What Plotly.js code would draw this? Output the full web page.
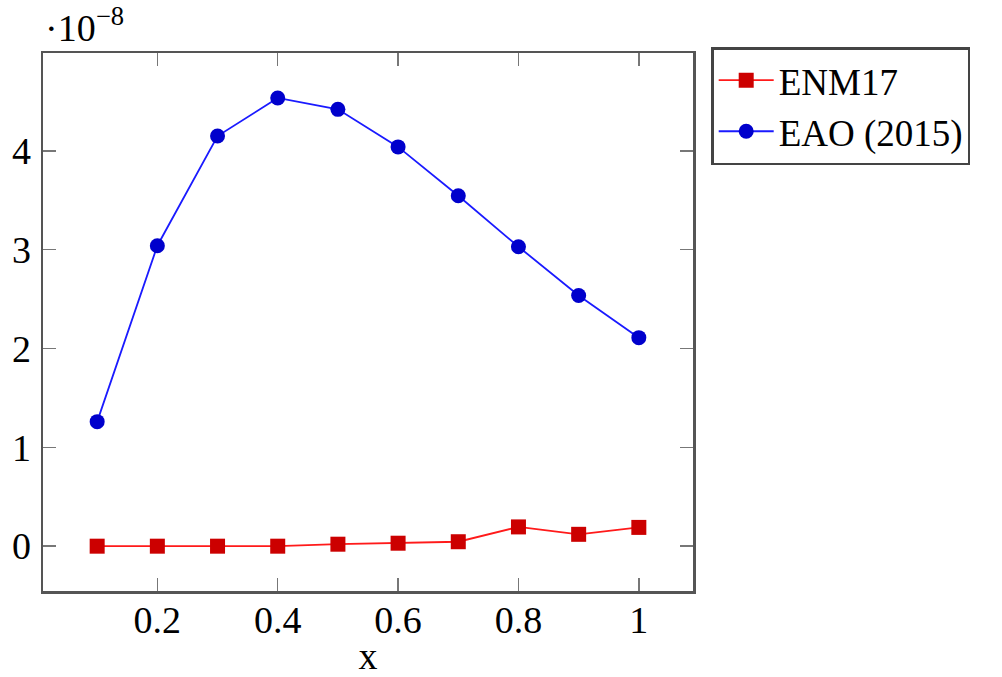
<!DOCTYPE html>
<html>
<head>
<meta charset="utf-8">
<script src="https://cdn.plot.ly/plotly-3.0.1.min.js"></script>
<style>html,body{margin:0;padding:0;background:#fff;}#chart{width:1002px;height:677px;}</style>
</head>
<body>
<div id="chart"></div>
<script>
// values in units of 1e-8
const xValues = [0.1, 0.2, 0.3, 0.4, 0.5, 0.6, 0.7, 0.8, 0.9, 1.0];
const enm17 = [0, 0, 0, 0, 0.02, 0.03, 0.045, 0.195, 0.12, 0.19];
const eao2015 = [1.26, 3.04, 4.15, 4.535, 4.42, 4.04, 3.545, 3.03, 2.536, 2.11];
const seriesNames = ["ENM17", "EAO (2015)"];
const xTicks = [0.2, 0.4, 0.6, 0.8, 1];
const xTickText = ["0.2", "0.4", "0.6", "0.8", "1"];
const yTicks = [0, 1, 2, 3, 4];
const yTickText = ["0", "1", "2", "3", "4"];
const exponentLabel = "·10<sup>−8</sup>";

const FONT = "'Liberation Serif', 'Times New Roman', serif";
const AX = "#555555";

const traces = [
  {
    x: xValues, y: enm17, name: seriesNames[0], type: "scatter", mode: "lines+markers",
    line: {color: "#ff1a1a", width: 1.8},
    marker: {symbol: "square", size: 15, color: "#cc0000", line: {width: 0}}
  },
  {
    x: xValues, y: eao2015, name: seriesNames[1], type: "scatter", mode: "lines+markers",
    line: {color: "#1a1aff", width: 1.8},
    marker: {symbol: "circle", size: 15, color: "#0000cc", line: {width: 0}}
  }
];

const layout = {
  width: 1002, height: 677,
  margin: {l: 43, r: 309, t: 53, b: 86},
  paper_bgcolor: "#fff", plot_bgcolor: "#fff",
  font: {family: FONT, size: 38, color: "#000"},
  showlegend: true,
  xaxis: {
    range: [0.01, 1.09],
    tickvals: xTicks, ticktext: xTickText,
    ticks: "inside", ticklen: 13, tickwidth: 1.5, tickcolor: "#777",
    showline: true, linecolor: AX, linewidth: 2.5, mirror: "ticks",
    showgrid: false, zeroline: false,
    tickfont: {family: FONT, size: 38},
    ticklabelstandoff: -6,
    title: {text: "x", font: {family: FONT, size: 38}, standoff: 2}
  },
  yaxis: {
    range: [-0.4535, 4.99],
    tickvals: yTicks, ticktext: yTickText,
    ticks: "inside", ticklen: 13, tickwidth: 1.5, tickcolor: "#777",
    showline: true, linecolor: AX, linewidth: 2.5, mirror: "ticks",
    showgrid: false, zeroline: false,
    tickfont: {family: FONT, size: 38},
    ticklabelstandoff: 2
  },
  legend: {
    x: 1.028, y: 1.011, xanchor: "left", yanchor: "top",
    bordercolor: "#444", borderwidth: 2.5, bgcolor: "#fff",
    font: {family: FONT, size: 37},
    itemwidth: 55, tracegroupgap: 0
  },
  annotations: [{
    text: exponentLabel, xref: "paper", yref: "paper", x: 0, y: 1.0,
    xanchor: "left", yanchor: "bottom", showarrow: false, yshift: 2,
    font: {family: FONT, size: 38, color: "#000"}
  }]
};

Plotly.newPlot("chart", traces, layout, {displayModeBar: false, staticPlot: true});
</script>
</body>
</html>
